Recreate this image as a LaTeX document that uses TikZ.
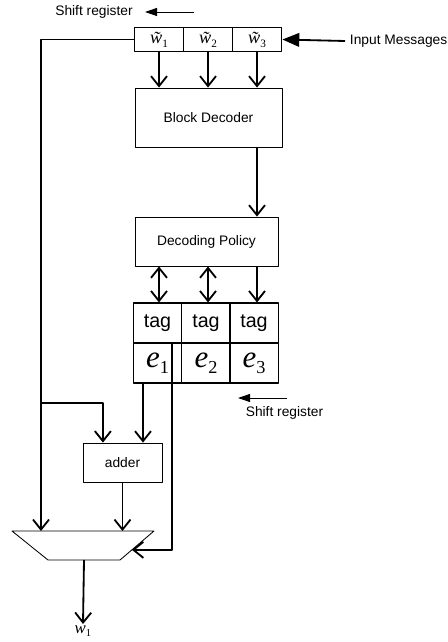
\documentclass[tikz,border=0pt]{standalone}
\usepackage{fontspec}
\setmainfont{Liberation Sans}
\newfontfamily\tms{Liberation Serif}
\usetikzlibrary{arrows.meta,calc}
\newcommand{\wlbl}[1]{{\tms\itshape\fontsize{13}{14}\selectfont\~{w}}\raisebox{-2.5pt}{\tms\fontsize{8}{8}\selectfont #1}}
\newcommand{\elbl}[1]{{\tms\itshape\fontsize{22}{24}\selectfont e}\raisebox{-4pt}{\tms\fontsize{13}{13}\selectfont #1}}
\newcommand{\outlbl}[1]{{\tms\itshape\fontsize{12}{13}\selectfont w}\raisebox{-2pt}{\tms\fontsize{7.5}{8}\selectfont #1}}
\begin{document}
\begin{tikzpicture}[x=0.025cm,y=-0.025cm,line join=round,font=\fontsize{9.8}{11}\selectfont,
	conn/.style={line width=1.3pt,-{Straight Barb[length=2.5mm,width=4mm]}},
	dbl/.style={line width=1.3pt,{Straight Barb[length=2.5mm,width=4mm]}-{Straight Barb[length=2.5mm,width=4mm]}},
	shf/.style={line width=0.6pt,-{Triangle[length=3mm,width=2mm]}},
	inarr/.style={line width=1.3pt,-{Triangle[length=4.2mm,width=3.4mm]}},
	reg/.style={draw,line width=1.3pt,minimum width=1.225cm,minimum height=0.6cm,inner sep=0pt},
	blk/.style={draw,line width=0.6pt,inner sep=0pt},
	tcell/.style={draw,line width=0.8pt,minimum width=1.2125cm,minimum height=1cm,inner sep=0pt}]
	\useasboundingbox (0,0) rectangle (447,642);
	% input register
	\foreach \n/\x in {1/159,2/208,3/257}
		\node[reg] (w\n) at (\x,39.5) {\wlbl{\n}};
	\node (sr1) at (94,12) {Shift register};
	\path (194,12) coordinate (sr1a) (145,12) coordinate (sr1b);
	\draw[shf] (sr1a)--(sr1b);
	\node[anchor=west] (inp) at (345,41) {Input Messages};
	\draw[inarr] (inp.west)--(w3.east);
	% decoder and policy
	\node[blk,minimum width=3.675cm,minimum height=1.475cm] (dec) at (208.5,117.5) {Block Decoder};
	\node[blk,minimum width=3.575cm,minimum height=1.225cm] (pol) at (206.5,241.5) {Decoding Policy};
	\foreach \n in {1,2,3}
		\draw[conn] (w\n.south)--(w\n.south |- dec.north);
	\draw[conn] (w3.south |- dec.south)--(w3.south |- pol.north);
	% tag / error register
	\foreach \n/\x in {1/157.5,2/206,3/254}{
		\node[tcell,font=\fontsize{14}{16}\selectfont] (t\n) at (\x,323) {tag};
		\node[tcell] (e\n) at (\x,363) {\elbl{\n}};}
	\draw[dbl] (w1.south |- pol.south)--(w1.south |- t1.north);
	\draw[dbl] (w2.south |- pol.south)--(w2.south |- t2.north);
	\draw[conn] (w3.south |- pol.south)--(w3.south |- t3.north);
	\node (sr2) at (284.5,413) {Shift register};
	\path (287,398) coordinate (sr2a) (238,398) coordinate (sr2b);
	\draw[shf] (sr2a)--(sr2b);
	% adder and selector
	\node[blk,minimum width=1.975cm,minimum height=0.975cm] (adder) at (122.5,462.5) {adder};
	\path (12,531) coordinate (mtl) (154,531) coordinate (mtr)
		(120,560) coordinate (mbr) (48,560) coordinate (mbl)
		(41,403) coordinate (lft);
	\draw[line width=0.6pt] (mtl)--(mtr)--(mbr)--(mbl)--cycle;
	\draw[conn] (w1.west) -| (lft |- mtl);
	\draw[conn] (lft) -| ([xshift=-0.49cm]adder.north);
	\draw[conn] ([xshift=-0.3625cm]e1.south)--([xshift=-0.3625cm]e1.south |- adder.north);
	\draw[conn] (adder.south)--(adder.south |- mtl);
	\draw[conn] ([xshift=0.3625cm]e1.north) |- ($(mtr)!0.65!(mbr)$);
	\node[inner sep=1pt] (out) at (83,631) {\outlbl{1}};
	\draw[conn] ($(mbl)!0.5!(mbr)$)--(out.north);
\end{tikzpicture}
\end{document}
